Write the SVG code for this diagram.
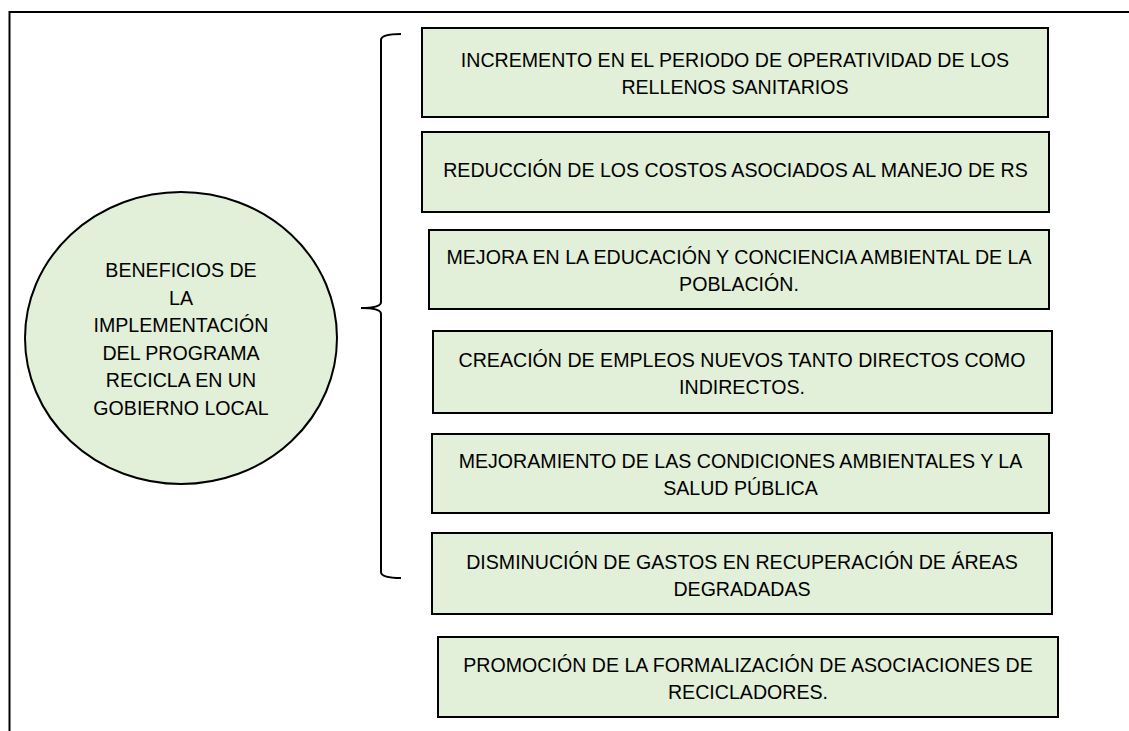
<svg xmlns="http://www.w3.org/2000/svg" width="1129" height="731" viewBox="0 0 1129 731">
<style>
.box{fill:#E2EFD9;stroke:#000;stroke-width:2}
.t{font-family:"Liberation Sans",Arial,sans-serif;font-size:19.6px;fill:#000;text-anchor:middle}
.ln{fill:none;stroke:#000;stroke-width:2}
</style>
<rect width="1129" height="731" fill="#fff"/>
<path class="ln" d="M9.5,731 L9.5,12 L1129,12"/>
<g id="center">
<ellipse class="box" cx="181" cy="338" rx="156" ry="146"/>
<text class="t" x="181"><tspan x="181" y="277">BENEFICIOS DE</tspan><tspan x="181" y="304.5">LA</tspan><tspan x="181" y="332">IMPLEMENTACIÓN</tspan><tspan x="181" y="359.5">DEL PROGRAMA</tspan><tspan x="181" y="387">RECICLA EN UN</tspan><tspan x="181" y="414.5">GOBIERNO LOCAL</tspan></text>
</g>
<g id="connectors">
<path class="ln" d="M401,34 Q381,34 381,40 L381,302 Q381,308 361,308 Q381,308 381,314 L381,572 Q381,578 401,578"/>
</g>
<g id="b1">
<rect class="box" x="422" y="28" width="626" height="89"/>
<text class="t"><tspan x="735" y="67">INCREMENTO EN EL PERIODO DE OPERATIVIDAD DE LOS</tspan><tspan x="735" y="94">RELLENOS SANITARIOS</tspan></text>
</g>
<g id="b2">
<rect class="box" x="422" y="132" width="627" height="80"/>
<text class="t" x="735.5" y="177">REDUCCIÓN DE LOS COSTOS ASOCIADOS AL MANEJO DE RS</text>
</g>
<g id="b3">
<rect class="box" x="429" y="230" width="620" height="79"/>
<text class="t"><tspan x="739" y="264">MEJORA EN LA EDUCACIÓN Y CONCIENCIA AMBIENTAL DE LA</tspan><tspan x="739" y="291">POBLACIÓN.</tspan></text>
</g>
<g id="b4">
<rect class="box" x="433" y="331" width="619" height="82"/>
<text class="t"><tspan x="742" y="366.5">CREACIÓN DE EMPLEOS NUEVOS TANTO DIRECTOS COMO</tspan><tspan x="742" y="393.5">INDIRECTOS.</tspan></text>
</g>
<g id="b5">
<rect class="box" x="432" y="434" width="617" height="79"/>
<text class="t"><tspan x="740.5" y="468">MEJORAMIENTO DE LAS CONDICIONES AMBIENTALES Y LA</tspan><tspan x="740.5" y="495">SALUD PÚBLICA</tspan></text>
</g>
<g id="b6">
<rect class="box" x="432" y="533" width="620" height="81"/>
<text class="t"><tspan x="742" y="568.5">DISMINUCIÓN DE GASTOS EN RECUPERACIÓN DE ÁREAS</tspan><tspan x="742" y="595.5">DEGRADADAS</tspan></text>
</g>
<g id="b7">
<rect class="box" x="438" y="637" width="620" height="80"/>
<text class="t"><tspan x="748" y="672">PROMOCIÓN DE LA FORMALIZACIÓN DE ASOCIACIONES DE</tspan><tspan x="748" y="699">RECICLADORES.</tspan></text>
</g>
</svg>
